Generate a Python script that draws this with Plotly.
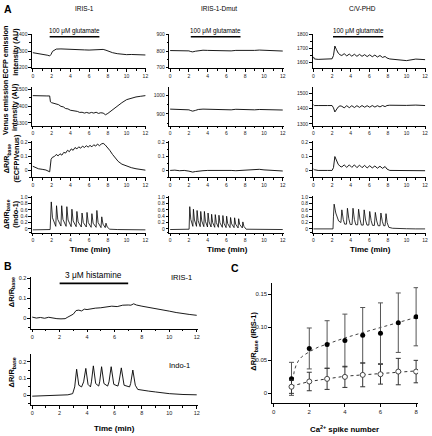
import plotly.graph_objects as go

FONT = "Liberation Sans, Arial, Helvetica, sans-serif"
W, H = 432, 436

# ---------------- DATA ----------------
# Panel A, IRIS-1 column
iris_ecfp_t = [0, 0.4, 0.8, 1.2, 1.6, 1.8, 1.95, 2.1, 2.3, 2.5, 3, 3.5, 4, 4.5, 5, 5.5, 6, 6.5, 7, 7.5,
               7.8, 8.1, 8.5, 9, 9.5, 10, 10.5, 11, 11.5, 12]
iris_ecfp_v = [1290, 1287, 1283, 1279, 1274, 1270, 1280, 1298, 1308, 1312, 1313, 1311, 1309, 1308, 1306, 1307,
               1306, 1307, 1308, 1310, 1305, 1298, 1290, 1284, 1280, 1278, 1279, 1277, 1278, 1276]

iris_venus_t = [0, 0.5, 1.0, 1.5, 1.8, 1.88, 2.0, 2.25, 2.5, 2.75, 3.0, 3.25, 3.5, 3.75, 4.0, 4.25, 4.5, 4.75,
                5.0, 5.25, 5.5, 5.75, 6.0, 6.25, 6.5, 6.75, 7.0, 7.25, 7.5, 7.75, 8.0, 8.5, 9.0, 9.5, 10.0,
                10.5, 11.0, 11.5, 12]
iris_venus_v = [1462, 1460, 1461, 1460, 1460, 1425, 1420, 1415, 1410, 1408, 1398, 1395, 1385, 1383, 1375, 1373,
                1368, 1368, 1362, 1363, 1358, 1362, 1357, 1362, 1358, 1363, 1356, 1360, 1358, 1348, 1356, 1378,
                1400, 1420, 1438, 1448, 1454, 1458, 1462]

iris_ratio_t = [0, 0.3, 0.6, 1.0, 1.4, 1.8, 1.85, 1.95, 2.1, 2.3, 2.5, 2.7, 2.9, 3.1, 3.3, 3.5, 3.7, 3.9, 4.1,
                4.3, 4.5, 4.7, 4.9, 5.1, 5.3, 5.5, 5.7, 5.9, 6.1, 6.3, 6.5, 6.7, 6.9, 7.1, 7.3, 7.5, 7.7, 7.9,
                8.2, 8.5, 8.8, 9.1, 9.5, 10, 10.5, 11, 11.5, 12]
iris_ratio_v = [0.03, 0.02, 0.012, 0.008, 0.003, -0.01, 0.04, 0.08, 0.095, 0.10, 0.115, 0.105, 0.12, 0.11,
                0.13, 0.125, 0.145, 0.135, 0.155, 0.145, 0.165, 0.155, 0.17, 0.16, 0.175, 0.165, 0.178, 0.168,
                0.18, 0.17, 0.185, 0.175, 0.19, 0.178, 0.19, 0.195, 0.185, 0.17, 0.145, 0.115, 0.09, 0.065,
                0.045, 0.03, 0.02, 0.012, 0.006, 0.002]

iris_indo_t = [0, 0.5, 1.0, 1.5, 1.85, 1.97, 2.1, 2.45, 2.53, 2.66, 3.0, 3.08, 3.21, 3.55, 3.63, 3.76, 4.09,
               4.17, 4.3, 4.62, 4.7, 4.83, 5.17, 5.25, 5.38, 5.7, 5.78, 5.91, 6.22, 6.3, 6.43, 6.75, 6.83, 6.96,
               7.27, 7.35, 7.48, 7.72, 7.8, 7.93, 8.2, 9, 10, 11, 12]
iris_indo_v = [-0.03, -0.03, -0.025, -0.03, -0.02, 0.85, 0.35, 0.08, 0.73, 0.3, 0.09, 0.73, 0.3, 0.08, 0.7,
               0.28, 0.07, 0.62, 0.25, 0.07, 0.55, 0.22, 0.06, 0.5, 0.2, 0.06, 0.52, 0.2, 0.05, 0.48, 0.18,
               0.05, 0.58, 0.2, 0.04, 0.38, 0.15, 0.04, 0.18, 0.06, -0.01, -0.02, -0.025, -0.02, -0.03]

# Panel A, IRIS-1-Dmut column
dmut_t = [0, 0.5, 1, 1.5, 2.0, 2.2, 2.4, 2.7, 3.0, 3.5, 4, 4.5, 5, 5.5, 6, 6.5, 7, 7.5, 8, 8.5, 9, 9.5, 10,
          10.5, 11, 11.5, 12]
dmut_ecfp_v = [803, 802, 803, 804, 801, 797, 795, 799, 803, 805, 804, 803, 804, 802, 803, 801, 804, 803, 804,
               805, 804, 806, 805, 803, 804, 803, 800]
dmut_venus_v = [926, 925, 926, 924, 922, 918, 915, 919, 924, 926, 925, 924, 925, 923, 924, 922, 925, 924, 923,
                924, 922, 924, 923, 922, 923, 922, 921]
dmut_ratio_v = [0.0, 0.002, -0.002, 0.0, -0.005, -0.01, -0.012, -0.008, -0.004, -0.002, 0.0, 0.001, -0.002,
                0.0, 0.002, 0.0, -0.002, 0.0, -0.001, 0.002, 0.005, 0.008, 0.004, 0.001, 0.0, -0.002, -0.004]

dmut_indo_t = [0, 0.6, 1.2, 1.8, 2.02, 2.09, 2.2, 2.42, 2.48, 2.59, 2.81, 2.87, 2.98, 3.2, 3.26, 3.37, 3.59,
               3.65, 3.76, 3.98, 4.04, 4.15, 4.36, 4.42, 4.53, 4.75, 4.81, 4.92, 5.14, 5.2, 5.31, 5.56, 5.62,
               5.73, 5.96, 6.02, 6.13, 6.38, 6.44, 6.55, 6.81, 6.87, 6.98, 7.24, 7.3, 7.41, 7.69, 7.75, 7.86,
               8.1, 9, 10, 11, 12]
dmut_indo_v = [-0.02, -0.015, -0.02, -0.02,
               -0.01, 0.70, 0.3, 0.08, 0.62, 0.28, 0.08, 0.58, 0.26, 0.07, 0.55, 0.25, 0.07, 0.55, 0.24,
               0.06, 0.50, 0.22, 0.06, 0.46, 0.2, 0.05, 0.45, 0.2, 0.05, 0.43, 0.19, 0.05, 0.42, 0.18,
               0.04, 0.40, 0.17, 0.04, 0.36, 0.16, 0.04, 0.35, 0.15, 0.03, 0.32, 0.14, 0.03, 0.22, 0.08,
               -0.01, -0.015, -0.02, -0.015, -0.02]

# Panel A, C/V-PHD column
cv_t = [0, 0.1, 0.5, 1.0, 1.5, 2.0, 2.15, 2.3, 2.45, 2.65, 2.85, 3.05, 3.3, 3.58, 3.85, 4.12, 4.4, 4.67, 4.95,
        5.22, 5.5, 5.77, 6.05, 6.32, 6.6, 6.87, 7.15, 7.42, 7.7, 7.9, 8.2, 9, 10, 11, 12]
cv_ecfp_v = [1640, 1625, 1622, 1625, 1623, 1626, 1650, 1718, 1695, 1668, 1655, 1650, 1663, 1647, 1660, 1645,
             1659, 1644, 1658, 1644, 1656, 1642, 1655, 1641, 1653, 1639, 1650, 1636, 1643, 1632, 1625, 1618,
             1613, 1624, 1620]
cv_venus_v = [1425, 1420, 1420, 1422, 1420, 1420, 1405, 1378, 1392, 1410, 1418, 1415, 1405, 1419, 1406, 1419,
              1407, 1419, 1408, 1420, 1409, 1419, 1409, 1420, 1410, 1419, 1411, 1420, 1413, 1420, 1422, 1420,
              1421, 1423, 1420]
cv_ratio_v = [0.01, 0.005, 0.0, 0.002, 0.0, 0.0, 0.02, 0.1, 0.075, 0.045, 0.03, 0.025, 0.04, 0.022, 0.04,
              0.022, 0.04, 0.02, 0.038, 0.02, 0.036, 0.018, 0.034, 0.018, 0.032, 0.016, 0.03, 0.015, 0.028,
              0.01, 0.0, 0.0, 0.002, 0.0, -0.002]

cv_indo_t = [0, 0.7, 1.4, 2.1, 2.15, 2.22, 2.4, 2.7, 2.95, 3.05, 3.2, 3.35, 3.55, 3.65, 3.8, 3.95, 4.15, 4.25,
             4.4, 4.55, 4.75, 4.85, 5.0, 5.15, 5.35, 5.45, 5.6, 5.75, 5.95, 6.05, 6.2, 6.35, 6.55, 6.65, 6.8,
             6.95, 7.15, 7.25, 7.4, 7.55, 7.7, 7.8, 7.92, 8.1, 8.5, 9, 10, 11, 12]
cv_indo_v = [0, 0.0, 0.0, 0.0, 0.4, 0.78, 0.5, 0.25, 0.2, 0.6, 0.3, 0.15, 0.15, 0.65, 0.32, 0.14, 0.14, 0.65,
             0.3, 0.13, 0.13, 0.62, 0.3, 0.12, 0.12, 0.6, 0.28, 0.12, 0.12, 0.55, 0.26, 0.11, 0.11, 0.52, 0.25,
             0.1, 0.1, 0.5, 0.24, 0.1, 0.1, 0.48, 0.2, 0.05, 0.02, 0.01, 0.005, 0.0, 0.0]

# stimulus bars (min)
glut_start = [1.8, 2.2, 2.1]
glut_end = [7.1, 7.5, 7.5]
hist_start, hist_end = 2.0, 7.0

# Panel B
hist_iris_t = [0, 0.3, 0.6, 0.9, 1.2, 1.5, 1.8, 2.1, 2.4, 2.6, 2.8, 3.0, 3.2, 3.4, 3.6, 3.8, 4.0, 4.3, 4.6,
               5.0, 5.4, 5.8, 6.2, 6.6, 7.0, 7.2, 7.4, 7.6, 8.0, 8.5, 9.0, 9.5, 10.0, 10.5, 11.0, 11.5, 12]
hist_iris_v = [0.005, 0.0, 0.003, -0.001, 0.004, 0.0, -0.003, -0.004, -0.003, 0.005, 0.012, 0.02, 0.038, 0.04,
               0.036, 0.045, 0.043, 0.047, 0.05, 0.052, 0.055, 0.06, 0.058, 0.065, 0.066, 0.065, 0.072, 0.066,
               0.06, 0.054, 0.05, 0.043, 0.035, 0.028, 0.022, 0.018, 0.014]
hist_indo_t = [0, 1, 2, 2.6, 2.95, 3.1, 3.24, 3.4, 3.6, 3.75, 3.91, 4.07, 4.25, 4.32, 4.46, 4.63, 4.85, 4.92,
               5.06, 5.23, 5.5, 5.6, 5.76, 5.95, 6.25, 6.33, 6.5, 6.7, 7.1, 7.18, 7.34, 7.52, 7.7, 8.0, 8.5, 9,
               10, 11, 12]
hist_indo_v = [-0.005, -0.002, 0.0, 0.003, 0.01, 0.05, 0.155, 0.06, 0.05, 0.08, 0.16, 0.065, 0.05, 0.08,
               0.175, 0.07, 0.055, 0.08, 0.17, 0.07, 0.055, 0.08, 0.17, 0.065, 0.055, 0.08, 0.163, 0.06, 0.05,
               0.07, 0.15, 0.06, 0.035, 0.03, 0.025, 0.02, 0.01, 0.005, 0.003]

# Panel C
spike_n = [1, 2, 3, 4, 5, 6, 7, 8]
filled_mean = [0.022, 0.068, 0.074, 0.080, 0.088, 0.091, 0.107, 0.116]
filled_err = [0.025, 0.031, 0.036, 0.040, 0.042, 0.046, 0.045, 0.044]
open_mean = [0.010, 0.018, 0.022, 0.025, 0.028, 0.029, 0.033, 0.033]
open_err = [0.010, 0.014, 0.016, 0.016, 0.018, 0.015, 0.020, 0.017]
filled_fit_x = [1.08, 1.15, 1.25, 1.4, 1.6, 1.8, 2, 2.5, 3, 3.5, 4, 5, 6, 7, 8]
filled_fit_y = [0.02, 0.033, 0.042, 0.05, 0.056, 0.06, 0.063, 0.07, 0.075, 0.08, 0.084, 0.092, 0.1, 0.108, 0.115]
open_fit_x = [1, 2, 3, 4, 5, 6, 7, 8]
open_fit_y = [0.011, 0.018, 0.022, 0.026, 0.028, 0.030, 0.032, 0.034]

time_ticks = [0, 2, 4, 6, 8, 10, 12]
time_minor = [1, 3, 5, 7, 9, 11]

# ---------------- FIGURE ----------------
fig = go.Figure()
layout_axes = {}


def fxp(p):
    return p / W


def fyp(p):
    return 1 - p / H


def setup(i, xdom, ydom, xr, yr, ytv, ytt=None, yminor=None, xtv=None, xtt=None, xminor=None, tfs=5):
    xn = 'xaxis' if i == 1 else f'xaxis{i}'
    yn = 'yaxis' if i == 1 else f'yaxis{i}'
    xa = 'x' if i == 1 else f'x{i}'
    ya = 'y' if i == 1 else f'y{i}'
    common = dict(showline=True, linecolor='black', linewidth=0.8, ticks='outside', ticklen=2.5,
                  tickwidth=0.8, tickcolor='black', showgrid=False, zeroline=False,
                  tickfont=dict(size=tfs, family=FONT, color='#222'), fixedrange=True)
    xd = dict(domain=[fxp(xdom[0]), fxp(xdom[1])], range=xr, anchor=ya, tickmode='array',
              tickvals=xtv, ticktext=xtt if xtt else [str(v) for v in xtv], **common)
    if xminor:
        xd['minor'] = dict(tickmode='array', tickvals=xminor, ticks='outside', ticklen=1.5,
                           tickcolor='black', tickwidth=0.8)
    yd = dict(domain=[fyp(ydom[1]), fyp(ydom[0])], range=yr, anchor=xa, tickmode='array',
              tickvals=ytv, ticktext=ytt if ytt else [str(v) for v in ytv], **common)
    if yminor:
        yd['minor'] = dict(tickmode='array', tickvals=yminor, ticks='outside', ticklen=1.5,
                           tickcolor='black', tickwidth=0.8)
    layout_axes[xn] = xd
    layout_axes[yn] = yd
    return xa, ya


def line(xa, ya, t, v, width=0.9):
    fig.add_trace(go.Scatter(x=t, y=v, xaxis=xa, yaxis=ya, mode='lines',
                             line=dict(color='black', width=width), showlegend=False, hoverinfo='skip'))


cols = [(32, 147), (170, 285), (314, 428)]
rows = [(32, 67), (86, 125), (140, 177), (196, 233)]
xr = [-0.1, 12.1]

row1_ranges = [[1194, 1406], [694, 906], [1557, 1807]]
row1_ticks = [[1200, 1300, 1400], [700, 800, 900], [1600, 1700, 1800]]
row1_minor = [[1250, 1350], [750, 850], [1650, 1750]]
row2_ranges = [[1282, 1512], [835, 1045], [1287, 1540]]
row2_ticks = [[1300, 1400, 1500], [900, 1000], [1300, 1400, 1500]]
row2_minor = [[1350, 1450], [850, 950], [1350, 1450]]

ecfp = [(iris_ecfp_t, iris_ecfp_v), (dmut_t, dmut_ecfp_v), (cv_t, cv_ecfp_v)]
venus = [(iris_venus_t, iris_venus_v), (dmut_t, dmut_venus_v), (cv_t, cv_venus_v)]
ratio = [(iris_ratio_t, iris_ratio_v), (dmut_t, dmut_ratio_v), (cv_t, cv_ratio_v)]
indo = [(iris_indo_t, iris_indo_v), (dmut_indo_t, dmut_indo_v), (cv_indo_t, cv_indo_v)]

xaxes_row1 = []
for c in range(3):
    xa, ya = setup(1 + c, cols[c], rows[0], xr, row1_ranges[c], row1_ticks[c], yminor=row1_minor[c],
                   xtv=time_ticks, xminor=time_minor)
    xaxes_row1.append(xa)
    line(xa, ya, *ecfp[c])
for c in range(3):
    xa, ya = setup(4 + c, cols[c], rows[1], xr, row2_ranges[c], row2_ticks[c], yminor=row2_minor[c],
                   xtv=time_ticks, xminor=time_minor)
    line(xa, ya, *venus[c])
for c in range(3):
    xa, ya = setup(7 + c, cols[c], rows[2], xr, [-0.05, 0.214], [0, 0.1, 0.2], ['0', '0.1', '0.2'],
                   yminor=[-0.05, 0.05, 0.15], xtv=time_ticks, xminor=time_minor)
    line(xa, ya, *ratio[c])
for c in range(3):
    xa, ya = setup(10 + c, cols[c], rows[3], xr, [-0.125, 1.03], [0, 0.2, 0.4, 0.6, 0.8, 1.0],
                   ['0', '0.2', '0.4', '0.6', '0.8', '1.0'], yminor=[-0.1],
                   xtv=time_ticks, xminor=time_minor)
    line(xa, ya, *indo[c], width=0.8)

# Panel B
xa, ya = setup(13, (31, 199), (278, 330), xr, [-0.055, 0.205], [0, 0.1, 0.2], ['0', '0.1', '0.2'],
               yminor=[-0.05, 0.05, 0.15], xtv=time_ticks, xminor=time_minor, tfs=5.5)
xa_b = xa
line(xa, ya, hist_iris_t, hist_iris_v)
xa, ya = setup(14, (31, 199), (355, 407), xr, [-0.059, 0.247], [0, 0.1, 0.2], ['0', '0.1', '0.2'],
               yminor=[-0.05, 0.05, 0.15], xtv=time_ticks, xminor=time_minor, tfs=5.5)
line(xa, ya, hist_indo_t, hist_indo_v, width=0.9)

# Panel C
xa, ya = setup(15, (273, 420), (284, 405), [-0.11, 8.11], [-0.015, 0.1665], [0, 0.05, 0.10, 0.15],
               ['0', '0.05', '0.10', '0.15'], xtv=[0, 2, 4, 6, 8], tfs=6)
fig.add_trace(go.Scatter(x=filled_fit_x, y=filled_fit_y, xaxis=xa, yaxis=ya, mode='lines',
                         line=dict(color='#444', width=1, dash='dot'), showlegend=False, hoverinfo='skip'))
fig.add_trace(go.Scatter(x=open_fit_x, y=open_fit_y, xaxis=xa, yaxis=ya, mode='lines',
                         line=dict(color='#333', width=1, dash='dot'), showlegend=False, hoverinfo='skip'))
fig.add_trace(go.Scatter(x=spike_n, y=filled_mean, xaxis=xa, yaxis=ya, mode='markers',
                         marker=dict(color='black', size=5, symbol='circle'),
                         error_y=dict(type='data', array=filled_err, color='#555', thickness=1, width=2.5),
                         showlegend=False, hoverinfo='skip'))
fig.add_trace(go.Scatter(x=spike_n, y=open_mean, xaxis=xa, yaxis=ya, mode='markers',
                         marker=dict(color='white', size=5, symbol='circle',
                                     line=dict(color='#333', width=0.9)),
                         error_y=dict(type='data', array=open_err, color='#333', thickness=1, width=2.5),
                         showlegend=False, hoverinfo='skip'))

# ---------------- annotations ----------------
anns = []


def ann(text, x, y, size, bold=False, angle=0, xanchor='center', color='black'):
    if bold:
        text = f'<b>{text}</b>'
    anns.append(dict(text=text, x=fxp(x), y=fyp(y), xref='paper', yref='paper', showarrow=False,
                     xanchor=xanchor, yanchor='middle', textangle=angle,
                     font=dict(size=size, family=FONT, color=color)))


ann('A', 2, 7, 10.5, bold=True, xanchor='left')
ann('B', 2, 266, 10.5, bold=True, xanchor='left')
ann('C', 230, 268, 10.5, bold=True, xanchor='left')

ann('IRIS-1', 85, 7, 6.5)
ann('IRIS-1-Dmut', 220, 7, 6.5)
ann('C/V-PHD', 364, 7, 6.5)

shapes = []
for c in range(3):
    mid = (glut_start[c] + glut_end[c]) / 2
    anns.append(dict(text='100 μM glutamate', x=mid, y=fyp(29), xref=xaxes_row1[c], yref='paper',
                     showarrow=False, xanchor='center', yanchor='middle',
                     font=dict(size=6.3, family=FONT, color='black')))
    shapes.append(dict(type='line', xref=xaxes_row1[c], yref='paper', x0=glut_start[c], x1=glut_end[c],
                       y0=fyp(35), y1=fyp(35), line=dict(color='black', width=1.6)))

anns.append(dict(text='3 μM histamine', x=(hist_start + hist_end) / 2, y=fyp(276), xref=xa_b, yref='paper',
                 showarrow=False, xanchor='center', yanchor='middle',
                 font=dict(size=8.3, family=FONT, color='black')))
shapes.append(dict(type='line', xref=xa_b, yref='paper', x0=hist_start, x1=hist_end,
                   y0=fyp(284), y1=fyp(284), line=dict(color='black', width=1.6)))

ann('ECFP emission<br>intensity (AU)', 10, 50, 7.3, bold=True, angle=-90)
ann('Venus emission<br>intensity (AU)', 10, 106, 7.3, bold=True, angle=-90)
ann('ΔR/R<sub>base</sub><br>(ECFP/Venus)', 11, 158, 7.3, bold=True, angle=-90)
ann('ΔR/R<sub>base</sub><br>(Indo-1)', 11, 214, 7.3, bold=True, angle=-90)

for c in range(3):
    ann('Time (min)', (cols[c][0] + cols[c][1]) / 2 + 1, 250, 8, bold=True)

ann('IRIS-1', 182, 278, 7.5)
ann('Indo-1', 180, 367, 7.5)
ann('ΔR/R<sub>base</sub>', 12, 293, 7.5, bold=True, angle=-90)
ann('ΔR/R<sub>base</sub>', 12, 374, 7.5, bold=True, angle=-90)
ann('Time (min)', 115, 430, 8, bold=True)

ann('ΔR/R<sub>base</sub> (IRIS-1)', 255, 342, 7.5, bold=True, angle=-90)
ann('Ca<sup>2+</sup> spike number', 346, 431, 7.8, bold=True)

fig.update_layout(width=W, height=H, margin=dict(l=0, r=0, t=0, b=0), paper_bgcolor='white',
                  plot_bgcolor='white', showlegend=False, annotations=anns, shapes=shapes,
                  font=dict(family=FONT), **layout_axes)

fig.write_html("out.html", config={'displayModeBar': False},
               post_script="document.body.style.margin='0px';document.body.style.overflow='hidden';")
